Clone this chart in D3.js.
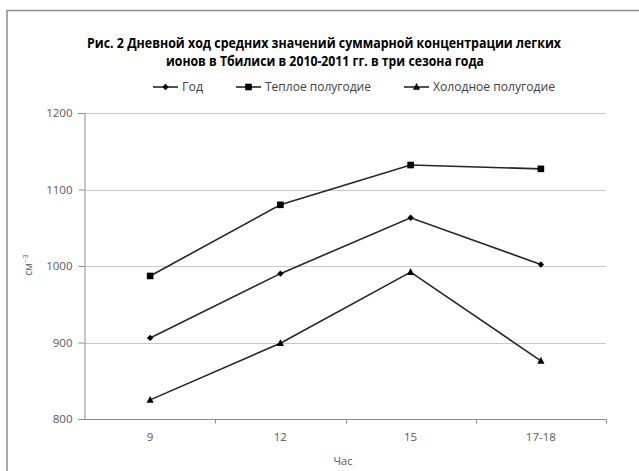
<!DOCTYPE html>
<html><head><meta charset="utf-8">
<script src="https://cdn.jsdelivr.net/npm/d3@7/dist/d3.min.js"></script>
<style>
body{margin:0;background:#fff;}
svg{display:block;font-family:"Open Sans",Arial,sans-serif;}
</style></head>
<body>
<svg id="chart" width="639" height="471"></svg>
<script>
// Hours of observation
const hours = ["9", "12", "15", "17-18"];
// Mean total light-ion concentration, cm^-3
const yearValues = [906, 990, 1063, 1002];
const warmValues = [987, 1080, 1132, 1127];
const coldValues = [825, 899, 992, 876];
const yTicks = [800, 900, 1000, 1100, 1200];
const seriesNames = ["Год", "Теплое полугодие", "Холодное полугодие"];

const series = [
  {name: seriesNames[0], values: yearValues, marker: "diamond"},
  {name: seriesNames[1], values: warmValues, marker: "square"},
  {name: seriesNames[2], values: coldValues, marker: "triangle"}
];

const svg = d3.select("#chart");
const W = 639, H = 471;
const plot = {left: 85, right: 606, top: 113, bottom: 419};

// fit a text element to a given width (narrow Calibri-like setting)
function fit(sel, width) {
  sel.attr("textLength", width).attr("lengthAdjust", "spacingAndGlyphs");
  return sel;
}

// outer chart frame (runs off the right and bottom edges)
svg.append("rect").attr("x", 7).attr("y", 10.5).attr("width", W + 10).attr("height", H + 10)
  .attr("fill", "#fff").attr("stroke", "#8c8c8c").attr("stroke-width", 1.5);

const x = d3.scaleBand().domain(hours).range([plot.left, plot.right]);
const y = d3.scaleLinear().domain([800, 1200]).range([plot.bottom, plot.top]);

// horizontal gridlines
svg.append("g").selectAll("line").data(yTicks.filter(d => d !== 800)).join("line")
  .attr("x1", plot.left).attr("x2", plot.right)
  .attr("y1", d => Math.round(y(d)) + 0.5).attr("y2", d => Math.round(y(d)) + 0.5)
  .attr("stroke", "#c8c8c8").attr("stroke-width", 1);

// y axis
const yAxis = svg.append("g").attr("transform", `translate(${plot.left - 0.5},0)`)
  .call(d3.axisLeft(y).tickValues(yTicks).tickFormat(d3.format("d")).tickSize(6).tickPadding(6));
yAxis.select(".domain").attr("stroke", "#8c8c8c");
yAxis.selectAll(".tick line").attr("stroke", "#8c8c8c");
yAxis.selectAll("text").attr("fill", "#595959").attr("font-size", 11.5)
  .attr("font-family", "'Open Sans',sans-serif");

// x axis: ticks sit between categories
const xAxisG = svg.append("g").attr("transform", `translate(0,${Math.round(plot.bottom) + 0.5})`);
xAxisG.append("line").attr("x1", plot.left - 1).attr("x2", plot.right + 0.5)
  .attr("stroke", "#8c8c8c");
const boundaries = hours.map(h => x(h) + x.bandwidth());
xAxisG.selectAll("line.tk").data(boundaries).join("line").attr("class", "tk")
  .attr("x1", d => Math.round(d) + 0.5).attr("x2", d => Math.round(d) + 0.5)
  .attr("y1", 0).attr("y2", 4).attr("stroke", "#8c8c8c");
xAxisG.selectAll("text").data(hours).join("text")
  .attr("x", d => x(d) + x.bandwidth() / 2).attr("y", 21)
  .attr("text-anchor", "middle").attr("fill", "#595959").attr("font-size", 11.5)
  .text(d => d);

// axis titles
svg.append("text").attr("x", 343).attr("y", 465).attr("text-anchor", "middle")
  .attr("fill", "#595959").attr("font-size", 11).text("Час");
const yt = svg.append("text").attr("transform", "translate(32,265) rotate(-90)")
  .attr("text-anchor", "middle").attr("fill", "#595959").attr("font-size", 10.5);
yt.append("tspan").text("см");
yt.append("tspan").attr("dy", -4).attr("font-size", 7.5).text("−3");

// title
const title = svg.append("g").attr("fill", "#000").attr("font-weight", "bold")
  .attr("font-size", 14);
fit(title.append("text").attr("x", 87).attr("y", 48)
  .text("Рис. 2  Дневной ход средних значений  суммарной концентрации легких"), 474);
fit(title.append("text").attr("x", 166).attr("y", 66)
  .text("ионов в Тбилиси в 2010-2011 гг. в три сезона года"), 318);

// markers
function drawMarker(g, type, cx, cy) {
  if (type === "diamond") {
    g.append("path").attr("d", `M${cx},${cy - 3.2}L${cx + 3.2},${cy}L${cx},${cy + 3.2}L${cx - 3.2},${cy}Z`)
      .attr("fill", "#000");
  } else if (type === "square") {
    g.append("rect").attr("x", cx - 3.3).attr("y", cy - 3.3).attr("width", 6.6).attr("height", 6.6)
      .attr("fill", "#000");
  } else {
    g.append("path").attr("d", `M${cx},${cy - 4}L${cx + 3.6},${cy + 2.8}L${cx - 3.6},${cy + 2.8}Z`)
      .attr("fill", "#000");
  }
}

const line = d3.line().x((d, i) => x(hours[i]) + x.bandwidth() / 2).y(d => y(d));
series.forEach(s => {
  const g = svg.append("g");
  g.append("path").datum(s.values).attr("d", line)
    .attr("fill", "none").attr("stroke", "#262626").attr("stroke-width", 1.6);
  s.values.forEach((v, i) => drawMarker(g, s.marker, x(hours[i]) + x.bandwidth() / 2, y(v)));
});

// legend
const legendX = [153, 236, 404];
const legendW = [21, 106, 122];
series.forEach((s, i) => {
  const g = svg.append("g");
  const lx = legendX[i], ly = 87;
  g.append("line").attr("x1", lx).attr("x2", lx + 25).attr("y1", ly).attr("y2", ly)
    .attr("stroke", "#262626").attr("stroke-width", 1.6);
  drawMarker(g, s.marker, lx + 12.5, ly);
  fit(g.append("text").attr("x", lx + 29).attr("y", ly + 4).attr("font-size", 12)
    .attr("fill", "#404040").text(s.name), legendW[i]);
});
</script>
</body></html>
